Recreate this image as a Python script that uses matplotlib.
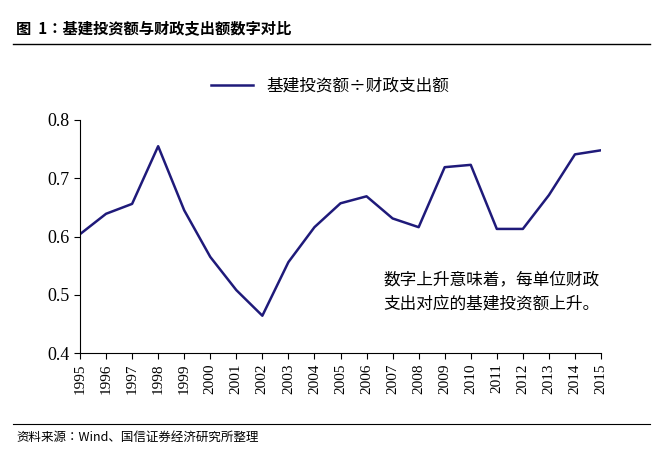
import matplotlib
matplotlib.use("Agg")
import matplotlib.pyplot as plt
from matplotlib.lines import Line2D

years = list(range(1995, 2016))
ratio = [0.604, 0.639, 0.656, 0.755, 0.645, 0.565, 0.508, 0.464, 0.556, 0.616,
         0.657, 0.669, 0.631, 0.616, 0.719, 0.723, 0.613, 0.613, 0.671, 0.741, 0.748]
yticks = [0.4, 0.5, 0.6, 0.7, 0.8]

cjk = ["Noto Sans CJK JP", "Noto Sans CJK SC", "Noto Sans CJK TC", "Noto Sans CJK KR", "DejaVu Sans"]
plt.rcParams["font.family"] = cjk
num = "Liberation Serif"
fig = plt.figure(figsize=(6.6, 4.51), dpi=100)
ax = fig.add_axes([80/660, 1-353/451, (601-80)/660, (353-120)/451])
ax.plot(years, ratio, color="#1f1a7a", lw=1.8)
ax.set_xlim(1995, 2015)
ax.set_ylim(0.4, 0.8)
ax.set_yticks(yticks)
ax.set_yticklabels(["0.4", "0.5", "0.6", "0.7", "0.8"], fontfamily=num, fontsize=13)
ax.set_xticks(years)
ax.set_xticklabels([str(y) for y in years], rotation=90, fontfamily=num, fontsize=11)
ax.spines["top"].set_visible(False)
ax.spines["right"].set_visible(False)
ax.tick_params(direction="out", length=4)

fig.legend(handles=[Line2D([], [], color="#1f1a7a", lw=1.8)], labels=["基建投资额÷财政支出额"],
           loc="center", bbox_to_anchor=(0.5, 1-86/451), frameon=False,
           prop={"family": cjk, "size": 12}, handlelength=2.5)
ax.text(2010.8, 0.505, "数字上升意味着，每单位财政\n支出对应的基建投资额上升。",
        ha="center", va="center", fontfamily=cjk, fontsize=12, linespacing=1.5)

fig.text(0.025, 1-28/451, "图  1：基建投资额与财政支出额数字对比", fontfamily=cjk,
         fontsize=11, fontweight="bold", va="center")
fig.add_artist(Line2D([0.02, 0.985], [1-44/451]*2, color="black", lw=1))
fig.add_artist(Line2D([0.02, 0.985], [1-424/451]*2, color="black", lw=0.8))
fig.text(0.025, 1-437/451, "资料来源：Wind、国信证券经济研究所整理", fontfamily=cjk,
         fontsize=9, va="center")
fig.savefig("out.png", dpi=100)
